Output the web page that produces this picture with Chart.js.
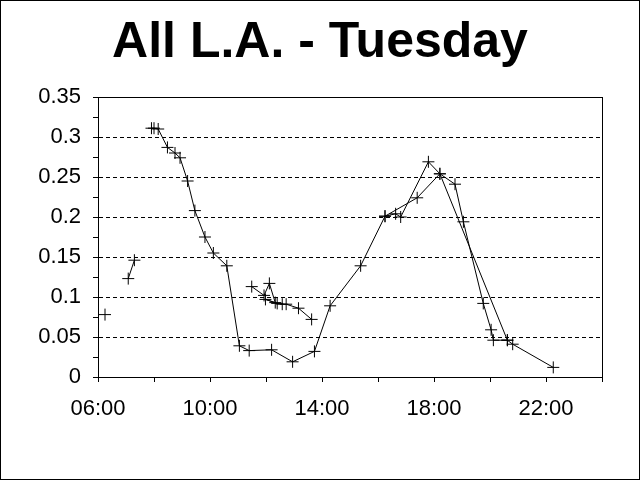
<!DOCTYPE html>
<html>
<head>
<meta charset="utf-8">
<title>All L.A. - Tuesday</title>
<script src="https://cdn.jsdelivr.net/npm/chart.js@4"></script>
<style>
  html, body { margin: 0; padding: 0; background: #fff; }
  #wrap { width: 640px; height: 480px; }
</style>
</head>
<body>
<div id="wrap"><canvas id="chart" width="640" height="480"></canvas></div>
<script>
// Time of day in hours. Each run is one unbroken line.
const run1Hours = [6.25];
const run1Values = [0.078];

const run2Hours = [7.08, 7.30];
const run2Values = [0.123, 0.146];

const run3Hours = [7.91, 8.00, 8.15, 8.48, 8.75, 8.93, 9.20, 9.46, 9.82, 10.12, 10.60, 11.05, 11.40,
  12.20, 12.95, 13.73, 14.29, 15.38, 16.25, 17.40, 18.21, 20.62, 20.81, 22.26];
const run3Values = [0.311, 0.311, 0.310, 0.287, 0.280, 0.274, 0.245, 0.208, 0.175, 0.155, 0.139, 0.039, 0.033,
  0.034, 0.019, 0.032, 0.089, 0.139, 0.201, 0.224, 0.254, 0.046, 0.041, 0.012];

const run4Hours = [16.25, 16.63, 16.81, 17.80, 18.21, 18.75, 19.05, 19.76, 20.04, 20.12, 20.62];
const run4Values = [0.201, 0.204, 0.200, 0.269, 0.254, 0.241, 0.194, 0.092, 0.059, 0.046, 0.046];

const run5Hours = [11.49, 11.93, 12.12, 12.33, 11.98, 12.40, 12.58, 12.72, 13.16, 13.63];
const run5Values = [0.113, 0.102, 0.117, 0.093, 0.097, 0.092, 0.091, 0.091, 0.086, 0.072];

const runs = [
  [run1Hours, run1Values],
  [run2Hours, run2Values],
  [run3Hours, run3Values],
  [run4Hours, run4Values],
  [run5Hours, run5Values]
];

// Axis ticks
const xMin = 6, xMax = 24, xStep = 2, xLabelEvery = 4;
const yMin = 0, yMax = 0.35, yStep = 0.025, yLabelEvery = 0.05;

function isMajorY(v) {
  return Math.round(v * 1000) % Math.round(yLabelEvery * 1000) === 0;
}

function hourLabel(v) {
  const h = Math.round(v);
  return (h < 10 ? '0' : '') + h + ':00';
}

// White page, outer frame and plot-area box like the Excel original
const framePlugin = {
  id: 'frame',
  beforeDraw(chart) {
    const ctx = chart.ctx;
    ctx.save();
    ctx.fillStyle = '#fff';
    ctx.fillRect(0, 0, chart.width, chart.height);
    ctx.restore();
  },
  afterDraw(chart) {
    const { ctx, chartArea } = chart;
    ctx.save();
    ctx.strokeStyle = '#000';
    ctx.lineWidth = 1;
    ctx.strokeRect(0.5, 0.5, chart.width - 1, chart.height - 1);
    ctx.strokeRect(Math.round(chartArea.left) + 0.5, Math.round(chartArea.top) + 0.5,
      Math.round(chartArea.right - chartArea.left), Math.round(chartArea.bottom - chartArea.top));
    ctx.restore();
  }
};

const datasets = runs.map(([hrs, vals]) => ({
  data: hrs.map((h, i) => ({ x: h, y: vals[i] })),
  showLine: true,
  borderColor: '#000',
  borderWidth: 1,
  tension: 0,
  pointStyle: 'cross',
  pointRadius: 6,
  pointBorderColor: '#000',
  pointBorderWidth: 1,
  pointHoverRadius: 6
}));

new Chart(document.getElementById('chart'), {
  type: 'scatter',
  data: { datasets },
  plugins: [framePlugin],
  options: {
    responsive: false,
    animation: false,
    devicePixelRatio: 1,
    layout: { padding: 0 },
    plugins: {
      legend: { display: false },
      tooltip: { enabled: false },
      title: {
        display: true,
        text: 'All L.A. - Tuesday',
        color: '#000',
        font: { family: '"Liberation Sans", Arial, sans-serif', size: 50, weight: 'bold' },
        padding: { top: 13, bottom: 24 }
      }
    },
    scales: {
      x: {
        type: 'linear',
        min: xMin,
        max: xMax,
        afterFit(scale) { scale.height = 103; },
        ticks: {
          stepSize: xStep,
          autoSkip: false,
          maxRotation: 0,
          padding: 14,
          color: '#000',
          font: { family: '"Liberation Sans", Arial, sans-serif', size: 22 },
          callback: (v) => ((v - xMin) % xLabelEvery === 0 ? hourLabel(v) : '')
        },
        grid: {
          drawOnChartArea: false,
          tickLength: 5,
          tickColor: '#000'
        },
        border: { display: true, color: '#000', width: 1 }
      },
      y: {
        min: yMin,
        max: yMax,
        afterFit(scale) { scale.width = 98; },
        ticks: {
          stepSize: yStep,
          autoSkip: false,
          padding: 12,
          color: '#000',
          font: { family: '"Liberation Sans", Arial, sans-serif', size: 22 },
          callback: (v) => (isMajorY(v) ? String(+v.toFixed(2)) : '')
        },
        grid: {
          tickLength: 5,
          tickColor: '#000',
          color: (c) => {
            const v = c.tick ? c.tick.value : 0;
            if (v <= yMin + 1e-9 || v >= yMax - 1e-9) return 'rgba(0,0,0,0)';
            return isMajorY(v) ? '#000' : 'rgba(0,0,0,0)';
          }
        },
        border: { display: true, color: '#000', width: 1, dash: [4, 3] }
      },
      // empty right-hand margin so the title stays centred on the page
      yRight: {
        position: 'right',
        afterFit(scale) { scale.width = 38; },
        ticks: { display: false },
        grid: { display: false },
        border: { display: false }
      }
    }
  }
});
</script>
</body>
</html>
